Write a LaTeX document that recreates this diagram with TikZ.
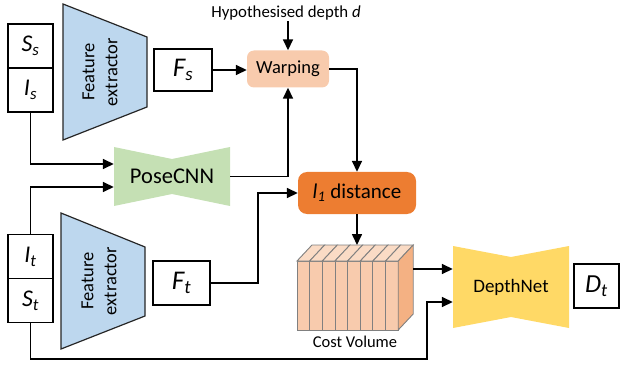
\documentclass[tikz,border=0pt]{standalone}
\usepackage{fontspec}
\setmainfont{Carlito}
\usetikzlibrary{arrows.meta,calc}
\definecolor{fexblue}{HTML}{BDD7EE}
\definecolor{posegreen}{HTML}{C5E0B4}
\definecolor{warppeach}{HTML}{F8CBAD}
\definecolor{lorange}{HTML}{ED7D31}
\definecolor{cvside}{HTML}{F4B183}
\definecolor{cvtopc}{HTML}{FADBC5}
\definecolor{depthyel}{HTML}{FFD966}
\tikzset{
  arr/.style={line width=1.6pt, -{Triangle[length=11pt,width=10pt]}},
  lbox/.style={draw=black, line width=1.4pt, fill=white, inner sep=0pt, font=\fontsize{24}{24}\selectfont\itshape},
  fex/.style={fill=fexblue, draw=black!85, line width=1.2pt, line join=miter},
  fextext/.style={rotate=90, align=center, font=\fontsize{18.5}{23}\selectfont},
  slice/.style={draw=black!50, line width=0.9pt},
}
\newcommand{\lab}[2]{#1\textsubscript{#2}}
\begin{document}
\begin{tikzpicture}[x=1pt,y=-1pt]
\useasboundingbox (0,0) rectangle (623,366);

% feature extractors
\draw[fex] (63,4) -- (147,37) -- (147,107) -- (63,140) -- cycle;
\node[fextext] (fex1) at (100,72) {Feature\\extractor};
\draw[fex] (61,213) -- (145,247) -- (145,316) -- (61,349) -- cycle;
\node[fextext] (fex2) at (99,281) {Feature\\extractor};

% input boxes
\node[lbox, minimum width=45pt, minimum height=44pt] (Ss) at (30.5,46) {\lab{S}{s}};
\node[lbox, minimum width=45pt, minimum height=44pt] (Is) at (30.5,90) {\lab{I}{s}};
\node[lbox, minimum width=45pt, minimum height=44pt] (It) at (30.5,256.5) {\lab{I}{t}};
\node[lbox, minimum width=45pt, minimum height=44pt] (St) at (30.5,300.5) {\lab{S}{t}};

% feature maps
\node[lbox, minimum width=58pt, minimum height=42pt, font=\fontsize{27}{27}\selectfont\itshape] (Fs) at (183,70) {\lab{F}{s}};
\node[lbox, minimum width=57pt, minimum height=44pt, font=\fontsize{27}{27}\selectfont\itshape] (Ft) at (181.5,283) {\lab{F}{t}};

% warping
\node[fill=warppeach, rounded corners=7pt, minimum width=82pt, minimum height=37pt, inner sep=0pt, font=\fontsize{18.5}{18.5}\selectfont] (warp) at (288,69) {Warping};
\node[font=\fontsize{16.8}{16.8}\selectfont, inner sep=1pt] (hyp) at (286,13) {Hypothesised depth \textit{d}};

% PoseCNN
\fill[posegreen] (114,147) -- (172,159) -- (230,147) -- (230,206) -- (172,194) -- (114,206) -- cycle;
\node[minimum width=116pt, minimum height=59pt, inner sep=0pt, font=\fontsize{22.5}{22.5}\selectfont] (pose) at (172,176.5) {PoseCNN};

% l1 distance
\node[fill=lorange, rounded corners=9pt, minimum width=118pt, minimum height=42pt, inner sep=0pt, font=\fontsize{21}{21}\selectfont] (l1) at (357,193) {\textit{l}\textsubscript{\textit{1}} distance};

% cost volume
\foreach \i in {0,...,7} {
  \pgfmathsetmacro{\xa}{297+12.65*\i}
  \pgfmathsetmacro{\xb}{297+12.65*(\i+1)}
  \filldraw[slice, fill=warppeach] (\xa,261) rectangle (\xb,330);
  \filldraw[slice, fill=cvtopc] (\xa,261) -- (\xa+15,245) -- (\xb+15,245) -- (\xb,261) -- cycle;
}
\filldraw[slice, fill=cvside] (398.2,261) -- (413.2,245) -- (413.2,314) -- (398.2,330) -- cycle;
\coordinate (cvtop) at (357,245);
\coordinate (cvright) at (413.2,269);
\node[font=\fontsize{16.5}{16.5}\selectfont] (cvlab) at (355,342) {Cost Volume};

% DepthNet
\fill[depthyel] (453,246) -- (511,257) -- (569,246) -- (569,328) -- (511,317) -- (453,328) -- cycle;
\node[minimum width=116pt, minimum height=82pt, inner sep=0pt, font=\fontsize{19}{19}\selectfont] (depth) at (511,287) {DepthNet};

% output
\node[lbox, minimum width=45pt, minimum height=44pt, font=\fontsize{26}{26}\selectfont\itshape] (Dt) at (596.5,286) {\lab{D}{t}};

% connectors
\coordinate (poseIn1) at ($(pose.west)+(0,-12.5)$);
\coordinate (poseIn2) at ($(pose.west)+(0,10.5)$);
\coordinate (depIn1) at ($(depth.west)+(0,-18)$);
\coordinate (depIn2) at ($(depth.west)+(0,15)$);
\coordinate (ftTurn) at (258,283);
\coordinate (stTurn) at (427,359);

\draw[arr] (Fs.east) -- (Fs.east -| warp.west);
\draw[arr] (warp.north |- hyp.south) -- (warp.north);
\draw[arr] (warp.east) -| (l1.north);
\draw[arr] (Is.south) |- (poseIn1);
\draw[arr] (It.north) |- (poseIn2);
\draw[arr] (pose.east) -| (warp.south);
\draw[arr] (Ft.east) -- (ftTurn) |- (l1.west);
\draw[arr] (l1.south) -- (cvtop);
\draw[arr] (cvright) -- (cvright -| depth.west);
\draw[arr] (St.south) |- (stTurn) |- (depIn2);
\end{tikzpicture}
\end{document}
